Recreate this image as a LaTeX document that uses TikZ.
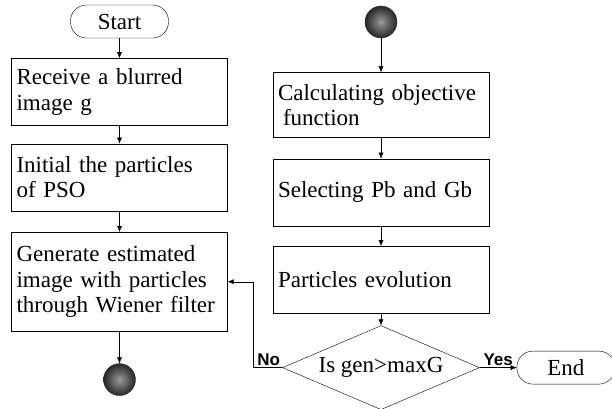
\documentclass[tikz,border=0pt]{standalone}
\usepackage{fontspec}
\setmainfont{Liberation Serif}
\newfontfamily\labelfont{Liberation Sans}
\usetikzlibrary{positioning,shapes.geometric,arrows.meta}

\begin{document}
\begin{tikzpicture}[
        x=1pt, y=1pt, >={Latex[length=6pt,width=5pt]},
        font=\fontsize{23}{25.5}\selectfont,
        stepbox/.style={rectangle, draw, text width=206pt, inner xsep=5pt, minimum height=67pt, align=left},
        terminal/.style={rectangle, rounded corners=16pt, draw, minimum width=98pt, minimum height=33pt},
        connector/.style={circle, draw=gray!40!black, inner color=gray!80, outer color=gray!30!black, minimum size=32pt, inner sep=0pt},
        decision/.style={diamond, draw, aspect=2.35, minimum width=197pt, minimum height=84pt, inner sep=1pt},
        branchlabel/.style={font=\labelfont\bfseries\fontsize{17}{17}\selectfont, inner sep=2pt},
]
        \useasboundingbox (0,0) rectangle (612,-408);

        \node[terminal] (start) at (119.5,-21.5) {Start};
        \node[stepbox] (receive) [below=20pt of start] {Receive a blurred\\image g};
        \node[stepbox] (initial) [below=18pt of receive] {Initial the particles\\of PSO};
        \node[stepbox, minimum height=99pt] (generate) [below=21pt of initial] {Generate estimated\\image with particles\\through Wiener filter};
        \node[connector] (leftjoin) [below=32pt of generate] {};

        \node[connector] (rightjoin) at (381,-22) {};
        \node[stepbox, minimum height=65pt] (calculate) [below=34pt of rightjoin] {Calculating objective\\\hspace{5pt}function};
        \node[stepbox] (select) [below=21pt of calculate] {Selecting Pb and Gb};
        \node[stepbox] (evolve) [below=20pt of select] {Particles evolution};
        \node[decision] (check) [below=12pt of evolve] {Is gen>maxG};
        \node[terminal] (finish) [right=37pt of check] {End};
        \coordinate (nobend) at ([xshift=-29pt]check.west);

        \draw[->] (start.south) -- (receive.north);
        \draw[->] (receive.south) -- (initial.north);
        \draw[->] (initial.south) -- (generate.north);
        \draw[->] (generate.south) -- (leftjoin.north);
        \draw[->] (rightjoin.south) -- (calculate.north);
        \draw[->] (calculate.south) -- (select.north);
        \draw[->] (select.south) -- (evolve.north);
        \draw[->] (evolve.south) -- (check.north);
        \draw[->] (check.east) -- node[branchlabel, above] {Yes} (finish.west);
        \draw[->] (check.west) -- (nobend) |- (generate.east);
        \node[branchlabel, anchor=south east] (nolabel) at (check.west) {No};
    \end{tikzpicture}
\end{document}
